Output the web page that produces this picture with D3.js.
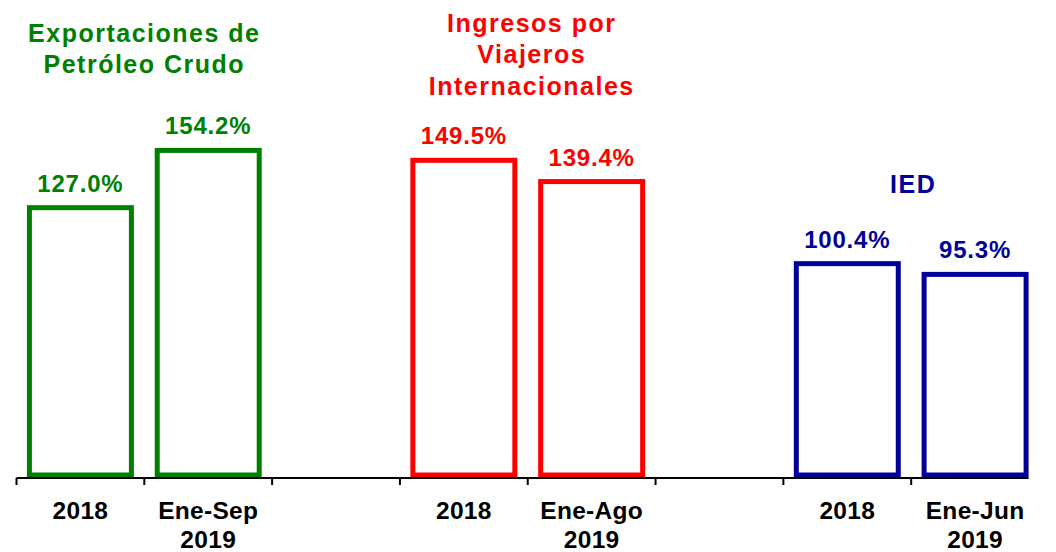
<!DOCTYPE html>
<html>
<head>
<meta charset="utf-8">
<script src="https://cdn.jsdelivr.net/npm/d3@7"></script>
<style>
  html, body { margin: 0; padding: 0; background: #fff; }
  svg { display: block; }
  text { font-family: "Liberation Sans", Arial, sans-serif; font-weight: bold; }
</style>
</head>
<body>
<svg id="chart" width="1056" height="552"></svg>
<script>
// ---- data ----
const slots = ["s0", "s1", "s2", "s3", "s4", "s5", "s6", "s7"];
const slotLabels = [["2018"], ["Ene-Sep", "2019"], [], ["2018"], ["Ene-Ago", "2019"], [], ["2018"], ["Ene-Jun", "2019"]];
const barSlots = ["s0", "s1", "s3", "s4", "s6", "s7"];
const barValues = [127.0, 154.2, 149.5, 139.4, 100.4, 95.3];
const barLabels = ["127.0%", "154.2%", "149.5%", "139.4%", "100.4%", "95.3%"];
const barGroup = [0, 0, 1, 1, 2, 2];
const groupTitles = [
  ["Exportaciones de", "Petróleo Crudo"],
  ["Ingresos por", "Viajeros", "Internacionales"],
  ["IED"]
];
const groupColors = ["#008000", "#FF0000", "#000099"];

// ---- layout ----
const svg = d3.select("#chart");
const x = d3.scaleBand().domain(slots).range([16.5, 1039]).paddingInner(0.163).paddingOuter(0.0815);
const y = d3.scaleLinear().domain([0, 200]).range([475, 54]);
const strokeW = 5;
const axisY = 478;

// bars
barValues.forEach((v, i) => {
  const s = barSlots[i];
  const c = groupColors[barGroup[i]];
  svg.append("rect")
    .attr("x", x(s) + strokeW / 2)
    .attr("y", y(v))
    .attr("width", x.bandwidth() - strokeW)
    .attr("height", y(0) - y(v))
    .attr("fill", "#fff")
    .attr("stroke", c)
    .attr("stroke-width", strokeW);
  svg.append("text")
    .attr("x", x(s) + x.bandwidth() / 2)
    .attr("y", y(v) - 16)
    .attr("text-anchor", "middle")
    .attr("font-size", 24)
    .attr("letter-spacing", 0.8)
    .attr("fill", c)
    .text(barLabels[i]);
});

// axis
const step = x.step();
const outerPad = step * x.paddingOuter();
const lastSlot = slots[slots.length - 1];
const axisStart = x(slots[0]) - outerPad;
const axisEnd = x(lastSlot) + x.bandwidth();
svg.append("line")
  .attr("x1", axisStart).attr("x2", axisEnd)
  .attr("y1", axisY).attr("y2", axisY)
  .attr("stroke", "#000").attr("stroke-width", 2);
slots.forEach(s => {
  const tx = x(s) - outerPad;
  svg.append("line")
    .attr("x1", tx).attr("x2", tx)
    .attr("y1", axisY).attr("y2", axisY + 7)
    .attr("stroke", "#000").attr("stroke-width", 2);
});

// category labels
slots.forEach((s, i) => {
  const lines = slotLabels[i];
  const t = svg.append("text")
    .attr("x", x(s) + x.bandwidth() / 2)
    .attr("y", 519)
    .attr("text-anchor", "middle")
    .attr("font-size", 24.5)
    .attr("letter-spacing", 0.3)
    .attr("fill", "#000");
  lines.forEach((ln, j) => {
    t.append("tspan")
      .attr("x", x(s) + x.bandwidth() / 2)
      .attr("dy", j === 0 ? 0 : 29)
      .text(ln);
  });
});

// group titles
const titleBaselines = [41.5, 31.5, 193];
const titleCenters = [0, 1, 2].map(g => {
  const ss = barSlots.filter((s, i) => barGroup[i] === g);
  return (x(ss[0]) + x(ss[ss.length - 1]) + x.bandwidth()) / 2;
});
const titleOffsets = [0, 4, 2];
groupTitles.forEach((lines, g) => {
  const cx = titleCenters[g] + titleOffsets[g];
  const t = svg.append("text")
    .attr("x", cx)
    .attr("y", titleBaselines[g])
    .attr("text-anchor", "middle")
    .attr("font-size", 25)
    .attr("letter-spacing", 1.5)
    .attr("fill", groupColors[g]);
  lines.forEach((ln, j) => {
    t.append("tspan")
      .attr("x", cx)
      .attr("dy", j === 0 ? 0 : 31.5)
      .text(ln);
  });
});
</script>
</body>
</html>
